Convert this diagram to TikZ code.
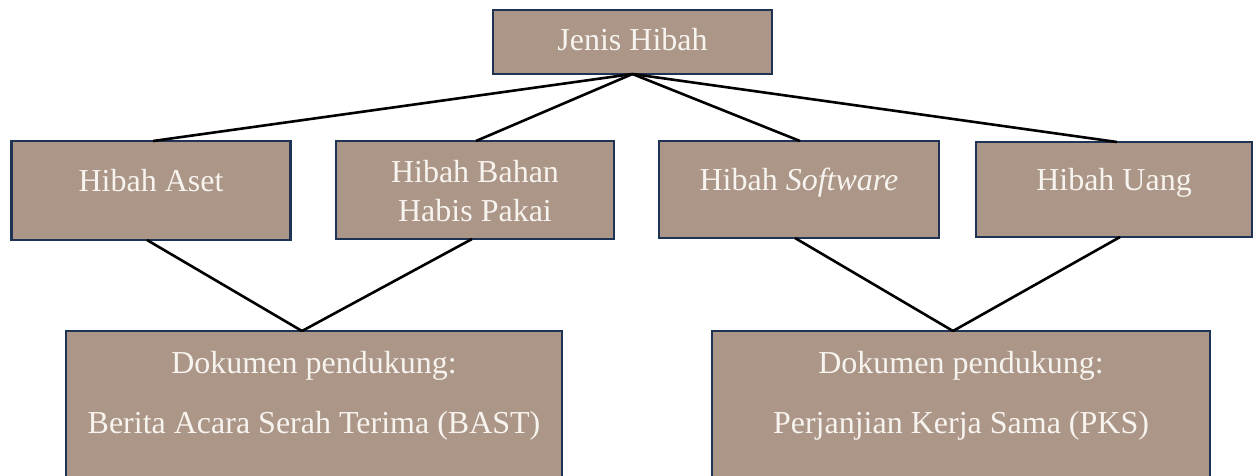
\documentclass[tikz,border=0pt]{standalone}
\usepackage{fontspec}
\setmainfont{Liberation Serif}
\definecolor{boxfill}{HTML}{AB9688}
\definecolor{boxline}{HTML}{1F3354}
\definecolor{boxtext}{HTML}{F7F3EE}
\begin{document}
\begin{tikzpicture}[x=1pt,y=-1pt,
  box/.style={draw=boxline, fill=boxfill, line width=2.8pt, rectangle,
    inner sep=0pt, outer sep=0pt},
  lbl/.style={text=boxtext, anchor=base, inner sep=0pt,
    font=\fontsize{32}{38}\selectfont},
  link/.style={draw=black, line width=2.6pt}]
\useasboundingbox (0,0) rectangle (1253,475);
\clip (0,0) rectangle (1253,475);

% boxes
\node[box, minimum width=279pt, minimum height=64pt]  (root)  at (632.5,42) {};
\node[box, minimum width=279pt, minimum height=99pt]  (aset)  at (151,190.5) {};
\node[box, minimum width=278pt, minimum height=98pt]  (bahan) at (475,190) {};
\node[box, minimum width=280pt, minimum height=97pt]  (soft)  at (799,189.5) {};
\node[box, minimum width=276pt, minimum height=95pt]  (uang)  at (1114,189.5) {};
\node[box, minimum width=496pt, minimum height=180pt] (bast)  at (314,421) {};
\node[box, minimum width=498pt, minimum height=180pt] (pks)   at (961,421) {};

% labels
\node[lbl] (troot)  at (632.5,50) {Jenis Hibah};
\node[lbl] (taset)  at (151,191) {Hibah Aset};
\node[lbl] (tbah1)  at (475,182) {Hibah Bahan};
\node[lbl] (tbah2)  at (475,221) {Habis Pakai};
\node[lbl] (tsoft)  at (799,190) {Hibah \textit{Software}};
\node[lbl] (tuang)  at (1114,190) {Hibah Uang};
\node[lbl] (tbast1) at (314,373) {Dokumen pendukung:};
\node[lbl] (tbast2) at (314,433) {Berita Acara Serah Terima (BAST)};
\node[lbl] (tpks1)  at (961,373) {Dokumen pendukung:};
\node[lbl] (tpks2)  at (961,433) {Perjanjian Kerja Sama (PKS)};

% connectors from the root
\draw[link] (root.south) -- ([xshift=2pt]aset.north);
\draw[link] (root.south) -- ([xshift=1pt]bahan.north);
\draw[link] (root.south) -- ([xshift=1pt]soft.north);
\draw[link] (root.south) -- ([xshift=3pt]uang.north);

% connectors to the supporting documents
\draw[link] ([xshift=-4pt]aset.south) -- ([xshift=-12pt]bast.north);
\draw[link] ([xshift=-3pt]bahan.south) -- ([xshift=-12pt]bast.north);
\draw[link] ([xshift=-4pt]soft.south) -- ([xshift=-8pt]pks.north);
\draw[link] ([xshift=6pt]uang.south) -- ([xshift=-8pt]pks.north);
\end{tikzpicture}
\end{document}
